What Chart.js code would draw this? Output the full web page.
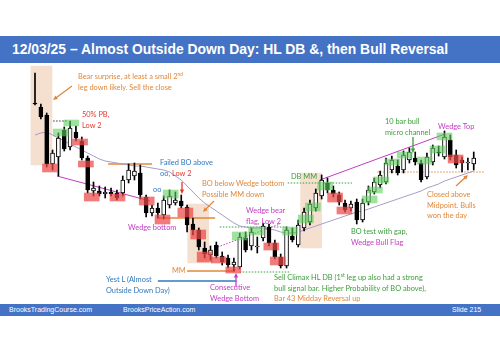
<!DOCTYPE html>
<html>
<head>
<meta charset="utf-8">
<script src="https://cdn.jsdelivr.net/npm/chart.js@4.4.1/dist/chart.umd.min.js"></script>
<style>
html, body { margin: 0; padding: 0; background: #fff; }
#wrap { position: relative; width: 500px; height: 353px; overflow: hidden; }
#c { position: absolute; left: 0; top: 0; }
.band { position: absolute; left: 0; width: 500px; background: #4472c4; color: #fff; }
#title { top: 36px; height: 27px; font: bold 13.9px "Liberation Sans", Arial, sans-serif; line-height: 27px; padding-left: 12px; box-sizing: border-box; white-space: nowrap; }
#foot { top: 304px; height: 12px; font: 7px "Liberation Sans", Arial, sans-serif; line-height: 12px; }
#foot span { position: absolute; top: 0; }
.note { position: absolute; font: 7.4px Lato, "Open Sans", sans-serif; white-space: nowrap; line-height: 10.5px; }
.note sup { font-size: 5px; line-height: 0; }
.or { color: #e0883a; } .rd { color: #e23a2e; } .bl { color: #2f78c0; } .mg { color: #c43bc4; } .gr { color: #3c9e3c; }
</style>
</head>
<body>
<div id="wrap">
  <canvas id="c" width="500" height="353"></canvas>
  <div class="band" id="title">12/03/25 – Almost Outside Down Day: HL DB &amp;, then Bull Reversal</div>
  <div class="band" id="foot">
    <span style="left:9px">BrooksTradingCourse.com</span>
    <span style="left:123px">BrooksPriceAction.com</span>
    <span style="left:452px">Slide 215</span>
  </div>

  <div class="note or" style="left:78px;top:72px">Bear surprise, at least a small 2<sup>nd</sup><br>leg down likely. Sell the close</div>
  <div class="note rd" style="left:82px;top:110px">50% PB,<br>Low 2</div>
  <div class="note bl" style="left:160px;top:158px">Failed BO above<br>oo, <span class="rd">Low 2</span></div>
  <div class="note bl" style="left:153px;top:185px">oo</div>
  <div class="note or" style="left:202px;top:179px">BO below Wedge bottom<br>Possible MM down</div>
  <div class="note mg" style="left:128px;top:223px">Wedge bottom</div>
  <div class="note mg" style="left:246px;top:206px">Wedge bear<br>flag, Low 2</div>
  <div class="note gr" style="left:291px;top:172px">DB MM</div>
  <div class="note or" style="left:172px;top:266px">MM</div>
  <div class="note bl" style="left:106px;top:275px">Yest L (Almost<br>Outside Down Day)</div>
  <div class="note mg" style="left:210px;top:283px">Consecutive<br>Wedge Bottom</div>
  <div class="note gr" style="left:274px;top:273px">Sell Climax HL DB (1<sup>st</sup> leg up also had a strong<br>bull signal bar. Higher Probability of BO above),<br><span class="or">Bar 43 Midday Reversal up</span></div>
  <div class="note gr" style="left:351px;top:227px">BO test with gap,<br><span class="mg">Wedge Bull Flag</span></div>
  <div class="note gr" style="left:385px;top:117px">10 bar bull<br>micro channel</div>
  <div class="note mg" style="left:438px;top:122px">Wedge Top</div>
  <div class="note or" style="left:427px;top:190px">Closed above<br>Midpoint. Bulls<br>won the day</div>
</div>

<script>
// 5 min bars, price in points (no axis shown)
const opens  = [297,293,285,236,243,270,253,268,259,242,209,209,206,208,207,207,220,224,227,203,
                187,192,185,195,197,199,193,176,170,152,145,155,144,142,135,133,162,154,153,162,
                173,157,143,134,164,155,172,178,192,204,217,210,205,197,192,198,180,198,208,215,
                218,230,234,230,240,242,237,223,238,248,243,260,245,240,237,236];
const highs  = [327,296,287,250,267,273,279,274,263,244,218,214,213,212,210,224,236,237,235,205,
                195,197,204,210,208,205,195,182,172,158,154,158,148,145,142,167,168,172,163,177,
                176,160,146,173,172,180,192,200,211,225,222,214,208,200,199,201,201,214,222,229,
                242,244,240,249,252,248,240,247,255,254,269,265,250,243,242,248];
const lows   = [295,281,233,230,224,249,250,259,240,207,204,204,202,204,200,204,217,220,201,183,
                184,182,181,192,195,192,168,165,150,142,140,142,135,132,129,131,148,150,147,159,
                154,141,132,132,158,153,169,175,189,201,207,203,195,188,189,176,178,195,206,212,
                216,227,225,227,237,235,218,221,235,244,241,240,232,228,230,230];
const closes = [296,283,236,247,262,251,272,262,242,210,212,206,208,206,202,220,230,229,205,187,
                192,187,200,204,200,194,175,170,153,146,150,144,138,135,138,163,150,168,154,174,
                157,143,134,170,160,175,188,196,207,220,210,206,198,190,196,180,197,210,218,225,
                237,240,227,245,248,238,220,243,252,247,263,243,235,237,238,242];
const ema20  = [265,267,268,265,262,259,256,253,250,247,244,241,239,238,237,236,235,234,234,233,
                232,231,230,228,224,220,214,208,202,197,193,189,185,181,177,174,173,172,172,172,
                171,170,168,167,167,168,170,172,174,176,178,180,182,184,186,188,189,191,193,195,
                197,199,201,203,205,207,209,212,214,216,219,221,223,225,227,229];

// highlight boxes: [bar position, low, high]
const bearBoxes = [[3.56,228,236],[8.7,255,261],[9.7,233,239],[10.7,199,207],[15.1,199,206],
                   [20.1,195,203],[22.8,176,185],[26.7,183,192],[28.9,161,170],[30,138,148],
                   [32.4,137,143],[34.9,127,133],[41.4,150,157],[42.5,135,143],[52.3,198,207],
                   [53.9,186,193],[72.9,237,245]];
const bullBoxes = [[5.4,264,271],[7.2,274,280],[24.2,202,210],[36,160,168],[38.8,165,173],
                   [44.6,165,173],[47.3,177,185],[48.5,189,197],[50.6,210,218],[58.2,197,204],
                   [59.1,207,213],[60.2,217,223],[62.1,235,241],[64.2,242,248],[67.6,236,243],
                   [69.8,247,254],[71,260,267]];
const legZones = [[2.1,235,334],[28.9,137,196],[48.2,152,227]];

// horizontal levels: [from bar, to bar, price]
const failedBoLevel    = [13.5, 21, 236];
const wedgeBottomLevel = [21.85, 31.8, 182];
const mmLevel          = [27, 35.2, 129];
const yestLow          = [22, 35.4, 119];
const midpointLevel    = [59.5, 77.9, 228];
const flagHighLevel    = [32.6, 44.1, 173];
const hlDbLevel        = [36, 44.6, 128];
const dbMmLevel        = [44.2, 55.2, 217];
const pbLevel          = [4.1, 6.6, 279];
// trend lines: [[bar, price], [bar, price]]
const bearTrend     = [[4.76, 224], [20.66, 199]];
const flagTrend     = [[31.77, 152], [42.88, 176]];
const wedgeTopTrend = [[49.7, 220], [71.1, 266]];

const ORANGE = '#e0883a', RED = '#e23a2e', BLUE = '#2f78c0', MAGENTA = '#c43bc4', GREEN = '#3c9e3c';

const level = l => [{x: l[0], y: l[2]}, {x: l[1], y: l[2]}];
const trend = t => t.map(p => ({x: p[0], y: p[1]}));
const lineDs = (data, color, dash, width) => ({
    type: 'line', data, borderColor: color, borderWidth: width || 1, borderDash: dash || [],
    pointRadius: 0, fill: false, tension: 0, order: 4
});
const boxDs = (boxes, color, thick, order) => ({
    type: 'bar', data: boxes.map(b => ({x: b[0], y: [b[1], b[2]]})),
    backgroundColor: color, barThickness: thick, grouped: false, order
});

const bars = opens.map((o, i) => i + 1);

// arrows of the notes, in page pixels
const arrows = [
    {from: [72, 86], to: [53, 100], color: ORANGE},
    {from: [182, 182], to: [182, 194], color: RED},
    {from: [214, 201], to: [203, 212], color: ORANGE},
    {from: [413, 137], to: [413, 153], color: GREEN},
    {from: [456, 186], to: [468, 175], color: ORANGE},
    {from: [236, 287], to: [236, 273], color: MAGENTA}
];

const arrowPlugin = {
    id: 'arrows',
    afterDatasetsDraw(chart) {
        const ctx = chart.ctx;
        ctx.save();
        arrows.forEach(a => {
            const [x1, y1] = a.from, [x2, y2] = a.to;
            const ang = Math.atan2(y2 - y1, x2 - x1);
            ctx.strokeStyle = a.color;
            ctx.fillStyle = a.color;
            ctx.lineWidth = 1.3;
            ctx.beginPath();
            ctx.moveTo(x1, y1);
            ctx.lineTo(x2 - 3 * Math.cos(ang), y2 - 3 * Math.sin(ang));
            ctx.stroke();
            ctx.beginPath();
            ctx.moveTo(x2, y2);
            ctx.lineTo(x2 - 5 * Math.cos(ang - 0.45), y2 - 5 * Math.sin(ang - 0.45));
            ctx.lineTo(x2 - 5 * Math.cos(ang + 0.45), y2 - 5 * Math.sin(ang + 0.45));
            ctx.closePath();
            ctx.fill();
        });
        ctx.restore();
    }
};

new Chart(document.getElementById('c'), {
    type: 'bar',
    data: {
        datasets: [
            boxDs(legZones, 'rgba(232,178,140,0.42)', 21, 10),
            lineDs(ema20.map((v, i) => ({x: bars[i], y: v})), '#a99bc8', [], 1),
            lineDs(trend(bearTrend), MAGENTA, [], 1),
            lineDs(trend(flagTrend), MAGENTA, [1.5, 1.5], 1),
            lineDs(trend(wedgeTopTrend), MAGENTA, [], 1),
            lineDs(level(failedBoLevel), ORANGE, [], 1.3),
            lineDs(level(wedgeBottomLevel), ORANGE, [], 1.3),
            lineDs(level(mmLevel), ORANGE, [], 1.3),
            lineDs(level(yestLow), BLUE, [], 1.3),
            lineDs(level(midpointLevel), ORANGE, [1.5, 1.5], 1),
            lineDs(level(flagHighLevel), GREEN, [1.5, 1.5], 1),
            lineDs(level(hlDbLevel), GREEN, [1.5, 1.5], 1),
            lineDs(level(dbMmLevel), GREEN, [1.5, 1.5], 1),
            lineDs(level(pbLevel), '#333', [1.5, 1.5], 1),
            {
                type: 'bar', data: bars.map((x, i) => ({x, y: [lows[i], highs[i]]})),
                backgroundColor: '#000', barThickness: 1, grouped: false, order: 3
            },
            {
                type: 'bar', data: bars.map((x, i) => ({x, y: [opens[i], closes[i]]})),
                backgroundColor: ctx => closes[ctx.dataIndex] > opens[ctx.dataIndex] ? '#fff' : '#000',
                borderColor: '#000', borderWidth: 1, borderSkipped: false,
                barThickness: 4, grouped: false, order: 2
            },
            boxDs(bearBoxes, 'rgba(235,70,70,0.72)', 15, 1),
            boxDs(bullBoxes, 'rgba(95,205,95,0.6)', 15, 1)
        ]
    },
    options: {
        responsive: false,
        animation: false,
        events: [],
        layout: {padding: 0},
        plugins: {legend: {display: false}, tooltip: {enabled: false}},
        scales: {
            x: {type: 'linear', min: -4.983, max: 80.49, display: false, offset: false},
            y: {min: 47, max: 400, display: false}
        }
    },
    plugins: [arrowPlugin]
});
</script>
</body>
</html>
